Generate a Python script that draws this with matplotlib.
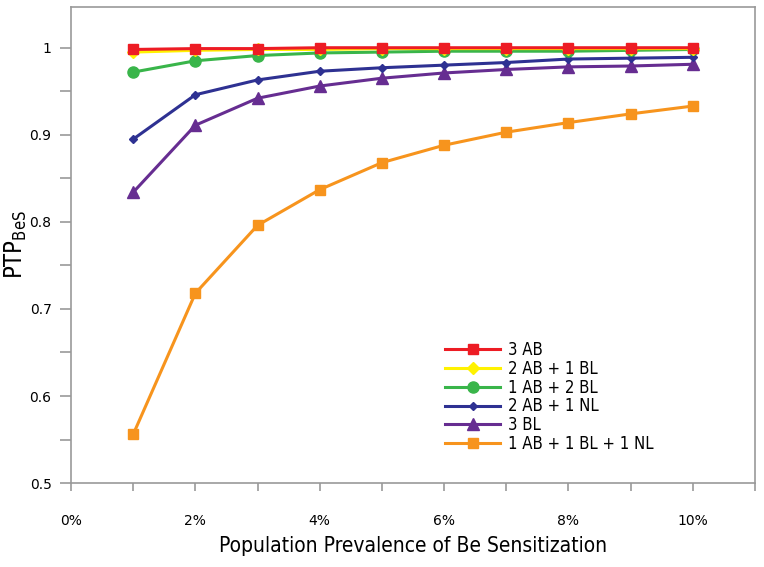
import matplotlib
matplotlib.use('Agg')
import matplotlib.pyplot as plt
import matplotlib.ticker as ticker

prevalence = [1, 2, 3, 4, 5, 6, 7, 8, 9, 10]

ab3 = [0.998, 0.999, 0.999, 1.000, 1.000, 1.000, 1.000, 1.000, 1.000, 1.000]
ab2_bl1 = [0.995, 0.997, 0.998, 0.998, 0.999, 0.999, 0.999, 0.999, 0.999, 0.999]
ab1_bl2 = [0.972, 0.985, 0.991, 0.994, 0.995, 0.996, 0.996, 0.996, 0.997, 0.998]
ab2_nl1 = [0.895, 0.946, 0.963, 0.973, 0.977, 0.980, 0.983, 0.987, 0.988, 0.989]
bl3 = [0.834, 0.911, 0.942, 0.956, 0.965, 0.971, 0.975, 0.978, 0.979, 0.981]
ab1_bl1_nl1 = [0.556, 0.718, 0.796, 0.837, 0.868, 0.888, 0.903, 0.914, 0.924, 0.933]

narrow = {'family': 'DejaVu Sans', 'stretch': 'condensed'}

fig, ax = plt.subplots(figsize=(7.64, 5.67), dpi=100)
fig.subplots_adjust(left=0.093, right=0.988, top=0.988, bottom=0.148)

# draw bottom series first so red ends up on top
l6, = ax.plot(prevalence, ab1_bl1_nl1, color='#F7941D', lw=2.2, marker='s', ms=7, label='1 AB + 1 BL + 1 NL')
l5, = ax.plot(prevalence, bl3, color='#662D91', lw=2.2, marker='^', ms=9, label='3 BL')
l4, = ax.plot(prevalence, ab2_nl1, color='#2E3192', lw=2.2, marker='D', ms=4.5, label='2 AB + 1 NL')
l3, = ax.plot(prevalence, ab1_bl2, color='#39B54A', lw=2.2, marker='o', ms=8, label='1 AB + 2 BL')
l2, = ax.plot(prevalence, ab2_bl1, color='#FFF200', lw=2.2, marker='D', ms=6, label='2 AB + 1 BL')
l1, = ax.plot(prevalence, ab3, color='#ED1C24', lw=2.2, marker='s', ms=7, label='3 AB')

ax.set_xlim(0, 11)
ax.set_ylim(0.5, 1.047)

ax.xaxis.set_major_locator(ticker.MultipleLocator(1))
ax.xaxis.set_major_formatter(ticker.FuncFormatter(lambda v, p: f'{int(round(v))}%' if round(v) % 2 == 0 and v <= 10 else ''))
ax.yaxis.set_major_locator(ticker.FixedLocator([0.5, 0.6, 0.7, 0.8, 0.9, 1.0]))
ax.yaxis.set_major_formatter(ticker.FuncFormatter(lambda v, p: f'{v:g}'))
ax.yaxis.set_minor_locator(ticker.FixedLocator([0.55, 0.65, 0.75, 0.85, 0.95]))

for s in ax.spines.values():
    s.set_color('#999999')
    s.set_linewidth(1.2)
ax.tick_params(axis='both', which='both', direction='out', color='#999999', width=1.2, labelsize=10)
ax.tick_params(axis='y', which='major', length=8, pad=6)
ax.tick_params(axis='y', which='minor', length=8)
ax.tick_params(axis='x', which='major', length=6, pad=16)

ax.set_xlabel('Population Prevalence of Be Sensitization', fontsize=15, labelpad=6, **narrow)
ax.set_ylabel(r'PTP$_{\mathregular{BeS}}$', fontsize=17, **narrow)
ax.yaxis.set_label_coords(-0.062, 0.5)

ax.legend(handles=[l1, l2, l3, l4, l5, l6], loc='upper left', bbox_to_anchor=(0.525, 0.33),
          frameon=False, prop={**narrow, 'size': 12}, handlelength=3.3,
          labelspacing=0.05, handletextpad=0.5)

fig.savefig('out.png', dpi=100)
